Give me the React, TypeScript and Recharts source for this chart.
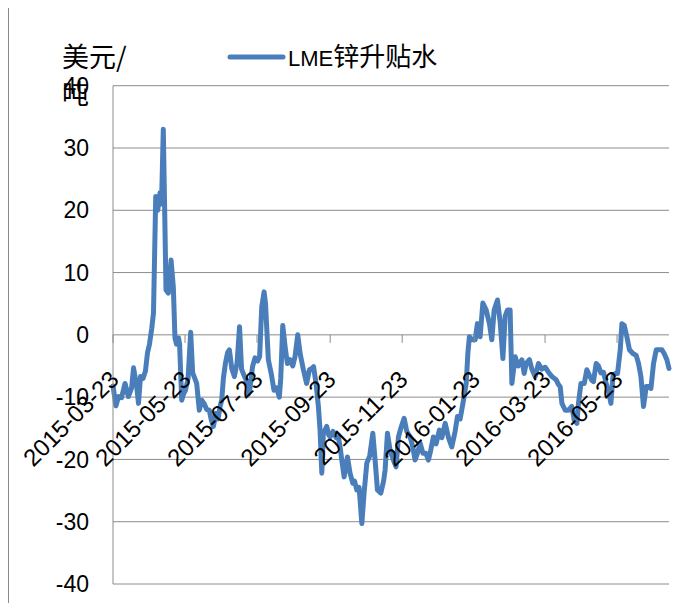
import React from 'react';
import { LineChart, Line, XAxis, YAxis, CartesianGrid, ReferenceDot, Legend } from 'recharts';

// Calendar-day offsets from 2015-03-23 and the LME zinc spread (USD/t) at each.
const dayOffsets = [
  0, 2.5, 4.7, 7.2, 10.2, 13.0, 15.8, 17.4,
  20.1, 21.6, 23.3, 25.4, 27.5, 29.2, 30.9, 32.8,
  34.3, 36.2, 37.9, 39.8, 41.1, 42.6, 43.6, 44.9,
  46.9, 49.2, 51.1, 52.5, 53.8, 55.5, 56.4, 58.2,
  59.7, 61.4, 63.6, 65.8, 67.5, 70.9, 73.1, 75.2,
  77.1, 79.4, 81.6, 83.1, 85.0, 87.3, 89.0, 90.7,
  92.1, 93.5, 95.3, 97.0, 98.6, 100.6, 102.8, 105.1,
  107.2, 108.9, 111.0, 113.3, 114.7, 116.1, 118.2, 120.3,
  122.5, 124.2, 126.0, 128.0, 129.2, 131.6, 134.3, 136.4,
  138.6, 140.9, 142.1, 143.8, 145.8, 147.7, 150.0, 152.3,
  154.2, 156.5, 158.5, 161.3, 164.0, 166.4, 168.4, 169.9,
  172.0, 174.0, 175.4, 176.9, 178.2, 181.1, 182.6, 183.9,
  186.4, 189.0, 190.9, 192.4, 193.8, 195.8, 198.6, 200.8,
  203.1, 204.7, 206.5, 208.5, 210.8, 212.7, 215.0, 217.4,
  220.1, 222.0, 224.0, 226.9, 229.2, 230.5, 232.5, 234.7,
  237.5, 239.8, 241.8, 243.8, 246.6, 248.9, 251.7, 254.0,
  255.9, 257.9, 260.2, 262.5, 265.0, 267.2, 269.2, 271.4,
  273.7, 276.5, 278.6, 281.4, 284.2, 287.0, 289.8, 291.8,
  294.1, 296.9, 299.2, 300.6, 301.9, 304.2, 306.8, 308.7,
  311.0, 313.3, 316.1, 318.9, 320.9, 322.9, 325.7, 328.0,
  330.3, 332.2, 334.2, 336.4, 337.9, 340.7, 343.2, 346.4,
  348.3, 350.0, 352.8, 354.8, 357.6, 360.4, 363.3, 366.1,
  368.9, 371.8, 375.4, 377.4, 378.8, 380.3, 383.1, 385.8,
  388.7, 390.7, 393.0, 394.3, 396.4, 399.2, 401.4, 403.6,
  405.7, 407.0, 409.3, 411.3, 413.3, 415.5, 417.8, 419.7,
  421.8, 423.5, 425.4, 427.4, 429.7, 431.1, 433.1, 435.3,
  437.5, 440.4, 443.2, 445.2, 447.2, 449.4, 451.7, 453.6,
  455.7, 457.9, 460.2, 463.0, 465.0, 466.9, 469.2, 471.0,
];

const spreadValues = [
  -8.2, -11.4, -9.9, -10.1, -7.8, -9.9, -8.5, -5.3,
  -8.3, -11.0, -6.7, -7.0, -5.8, -2.9, -1.5, 1.0,
  3.5, 22.2, 20.0, 22.8, 21.0, 33.0, 22.0, 7.2,
  6.7, 12.0, 7.7, -0.5, -1.5, -0.5, -1.5, -10.5,
  -9.5, -8.9, -7.0, 0.4, -6.1, -7.8, -12.1, -10.5,
  -11.0, -12.0, -12.1, -13.5, -14.7, -12.6, -13.5, -11.5,
  -10.5, -7.0, -4.5, -2.9, -2.4, -5.4, -6.7, -4.5,
  1.3, -5.5, -6.5, -7.5, -9.5, -8.5, -5.1, -3.7,
  -4.2, -3.5, 4.5, 6.9, 5.0, -4.0, -6.5, -8.9,
  -8.5, -10.0, -7.0, 1.5, -1.9, -4.6, -4.0, -5.0,
  -3.5, 0.0, -3.0, -5.6, -7.8, -5.6, -5.4, -5.1,
  -7.8, -11.5, -15.3, -22.2, -15.8, -14.7, -16.0, -16.4,
  -15.5, -16.5, -16.4, -18.0, -20.1, -22.8, -19.6, -22.2,
  -23.8, -23.5, -24.9, -24.5, -30.3, -25.4, -20.6, -19.5,
  -15.8, -20.0, -24.9, -25.4, -23.5, -21.7, -15.8, -18.5,
  -20.1, -21.2, -16.4, -15.0, -13.4, -15.5, -16.4, -18.0,
  -20.1, -19.0, -17.4, -19.0, -19.0, -20.1, -18.5, -16.4,
  -17.5, -15.3, -16.5, -14.2, -16.5, -18.0, -15.5, -13.1,
  -13.5, -10.5, -7.8, -3.0, -0.3, -0.8, -0.8, 1.8,
  -0.3, 5.1, 4.0, 1.8, -0.8, 4.0, 5.6, 2.0,
  -3.8, 3.0, 4.0, 4.0, -7.8, -3.5, -5.0, -4.0,
  -6.2, -4.6, -4.0, -5.5, -6.7, -4.6, -5.5, -5.2,
  -6.0, -6.7, -7.2, -8.0, -8.3, -11.0, -12.1, -12.1,
  -11.5, -13.7, -14.2, -11.0, -7.8, -7.8, -5.6, -6.5,
  -7.3, -7.5, -4.6, -5.0, -6.1, -6.0, -7.8, -9.0,
  -11.0, -6.7, -6.2, -6.2, -2.4, 1.8, 1.5, -0.3,
  -2.4, -3.0, -3.3, -4.6, -6.7, -11.5, -8.3, -8.3,
  -8.6, -4.6, -2.4, -2.4, -2.4, -3.0, -4.0, -5.4,
];

// Date labels every two months, and their day offsets on the axis.
const tickDays = [0, 61, 122, 184, 245, 306, 366, 427];
const tickLabels = [
  '2015-03-23', '2015-05-23', '2015-07-23', '2015-09-23',
  '2015-11-23', '2016-01-23', '2016-03-23', '2016-05-23',
];
const yTicks = [-40, -30, -20, -10, 0, 10, 20, 30, 40];

const seriesName = 'LME锌升贴水';
const unitTop = '美元/';
const unitBottom = '吨';

const data = dayOffsets.map((day, i) => ({ day, spread: spreadValues[i] }));

const LINE_COLOR = '#4A7EBB';
const GRID_COLOR = '#8c8c8c';
const LATIN = '"Liberation Sans", Arial, sans-serif';
const CJK = '"Noto Sans CJK SC", sans-serif';

const CHART_W = 684;
const CHART_H = 595;

// Tick mark on the zero line plus the slanted date label beneath it.
const DateMark = (props: any) => {
  const { cx, cy, text } = props;
  if (cx == null || cy == null) return null;
  const ly = cy + 40;
  return (
    <g>
      <line x1={cx} y1={cy} x2={cx} y2={cy + 8} stroke={GRID_COLOR} strokeWidth={1} />
      <text
        x={cx + 1}
        y={ly}
        dy="0.36em"
        textAnchor="end"
        transform={`rotate(-45 ${cx + 1} ${ly})`}
        fontFamily={LATIN}
        fontSize={24}
        fill="#000"
      >
        {text}
      </text>
    </g>
  );
};

const LegendContent = () => (
  <svg width={260} height={40} style={{ overflow: 'visible', display: 'block' }}>
    <line x1={8} y1={20} x2={61} y2={20} stroke={LINE_COLOR} strokeWidth={5} strokeLinecap="round" />
    <text x={66} y={29} fill="#000">
      <tspan fontFamily={LATIN} fontSize={22}>LME</tspan>
      <tspan fontFamily={CJK} fontSize={26}>{seriesName.slice(3)}</tspan>
    </text>
  </svg>
);

const UnitLabel = (props: any) => {
  const vb = props.viewBox || { x: 0, y: 0 };
  const x = vb.x + 54;
  return (
    <g>
      <text x={x} y={vb.y - 19} fontFamily={CJK} fontSize={27} fill="#000">{unitTop}</text>
      <text x={x} y={vb.y + 18} fontFamily={CJK} fontSize={27} fill="#000">{unitBottom}</text>
    </g>
  );
};

export default function App() {
  return (
    <div style={{ position: 'relative', width: 692, height: 595 }}>
      <div
        style={{
          position: 'absolute',
          left: 0,
          top: -8,
          width: 1,
          height: 603,
          background: '#8a8a8a',
        }}
      />
      <LineChart
        width={CHART_W}
        height={CHART_H}
        data={data}
        margin={{ top: 77.7, right: 23, bottom: 19, left: 0 }}
      >
        <CartesianGrid horizontal vertical={false} stroke={GRID_COLOR} strokeWidth={1} />
        <XAxis type="number" dataKey="day" domain={[0, 471]} hide />
        <YAxis
          type="number"
          domain={[-40, 40]}
          ticks={yTicks}
          width={105}
          interval={0}
          tickLine={false}
          tickSize={0}
          tickMargin={24}
          axisLine={{ stroke: GRID_COLOR, strokeWidth: 1 }}
          tick={{ fontFamily: LATIN, fontSize: 23, fill: '#000' }}
          label={{ content: <UnitLabel /> }}
        />
        <Legend
          verticalAlign="middle"
          align="center"
          layout="horizontal"
          content={<LegendContent />}
          wrapperStyle={{ left: 214, top: 29, width: 260, height: 40 }}
        />
        <Line
          type="linear"
          dataKey="spread"
          name={seriesName}
          stroke={LINE_COLOR}
          strokeWidth={5}
          strokeLinejoin="round"
          strokeLinecap="round"
          dot={false}
          activeDot={false}
          isAnimationActive={false}
        />
        {tickDays.map((d, i) => (
          <ReferenceDot
            key={d}
            x={d}
            y={0}
            r={0}
            ifOverflow="visible"
            shape={(p: any) => <DateMark {...p} text={tickLabels[i]} />}
          />
        ))}
      </LineChart>
    </div>
  );
}
